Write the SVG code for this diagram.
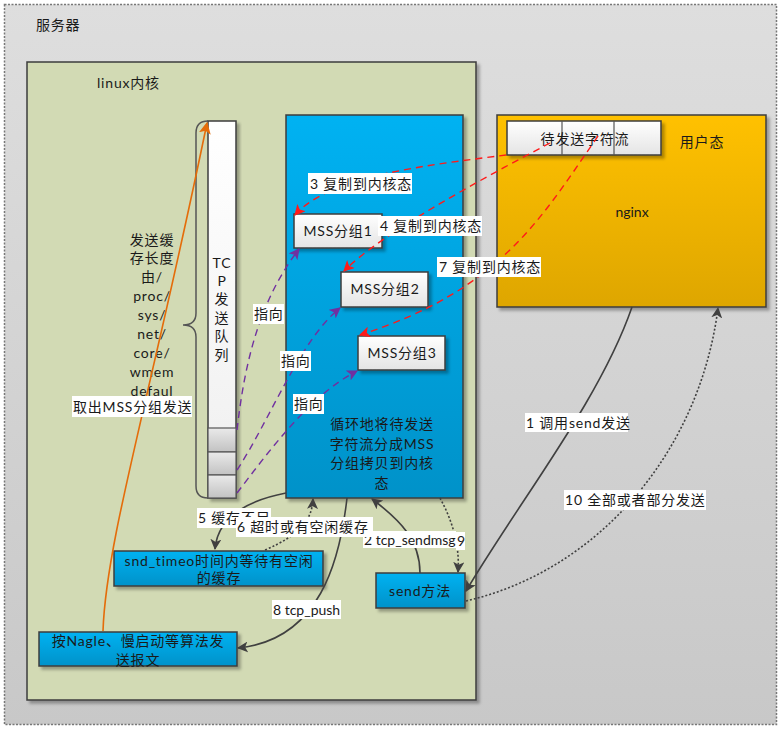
<svg xmlns="http://www.w3.org/2000/svg" width="783" height="729" viewBox="0 0 783 729">
<defs>
<style>
text{font-family:Lato,"Noto Sans CJK SC",sans-serif;font-size:14px;fill:#1a1a1a;letter-spacing:0.8px}
.l{letter-spacing:0}
.c{text-anchor:middle}
.box{stroke:#3c3c3c;stroke-width:1.5}
.lbl{fill:#fff}
.blk{fill:none;stroke:#404040;stroke-width:1.6}
.dot{fill:none;stroke:#404040;stroke-width:1.6;stroke-dasharray:2 2}
.red{fill:none;stroke:#ff1a1a;stroke-width:1.4;stroke-dasharray:7 5}
.pur{fill:none;stroke:#7030a0;stroke-width:1.4;stroke-dasharray:7 5}
</style>
<linearGradient id="gOuter" x1="0" y1="0" x2="0" y2="1"><stop offset="0" stop-color="#dedede"/><stop offset="1" stop-color="#c8c8c8"/></linearGradient>
<linearGradient id="gBlue" x1="0" y1="0" x2="0" y2="1"><stop offset="0" stop-color="#00b2f2"/><stop offset="1" stop-color="#0092c9"/></linearGradient>
<linearGradient id="gOrange" x1="0" y1="0" x2="0" y2="1"><stop offset="0" stop-color="#ffc100"/><stop offset="1" stop-color="#dea600"/></linearGradient>
<linearGradient id="gWhite" x1="0" y1="0" x2="0" y2="1"><stop offset="0" stop-color="#ffffff"/><stop offset="1" stop-color="#e4e4e4"/></linearGradient>
<linearGradient id="gQueue" x1="0" y1="0" x2="0" y2="1"><stop offset="0" stop-color="#ffffff"/><stop offset="1" stop-color="#efefef"/></linearGradient>
<linearGradient id="gSeg" x1="0" y1="0" x2="0" y2="1"><stop offset="0" stop-color="#eaeaea"/><stop offset="1" stop-color="#c2c2c2"/></linearGradient>
<filter id="sh" x="-10%" y="-10%" width="130%" height="130%"><feDropShadow dx="3" dy="3" stdDeviation="1.5" flood-color="#000" flood-opacity="0.3"/></filter>
<marker id="aBlk" viewBox="0 0 10 10" refX="9" refY="5" markerWidth="11" markerHeight="11" markerUnits="userSpaceOnUse" orient="auto"><path d="M0,0 L10,5 L0,10 L2.5,5 z" fill="#404040"/></marker>
<marker id="aRed" viewBox="0 0 10 10" refX="9" refY="5" markerWidth="11" markerHeight="11" markerUnits="userSpaceOnUse" orient="auto"><path d="M0,0 L10,5 L0,10 L2.5,5 z" fill="#ff1a1a"/></marker>
<marker id="aPur" viewBox="0 0 10 10" refX="9" refY="5" markerWidth="11" markerHeight="11" markerUnits="userSpaceOnUse" orient="auto"><path d="M0,0 L10,5 L0,10 L2.5,5 z" fill="#7030a0"/></marker>
<marker id="aOra" viewBox="0 0 10 10" refX="9" refY="5" markerWidth="12" markerHeight="12" markerUnits="userSpaceOnUse" orient="auto"><path d="M0,0 L10,5 L0,10 L2.5,5 z" fill="#e46c0a"/></marker>
</defs>

<g id="server">
<rect x="4.5" y="4.5" width="772" height="720" fill="url(#gOuter)" stroke="#777" stroke-width="1.5" stroke-dasharray="2 1.5"/>
<text x="36" y="30">服务器</text>
</g>

<g id="linux-kernel">
<rect x="27" y="62" width="449" height="638" fill="#d2dab4" class="box" filter="url(#sh)"/>
<text x="97" y="88">linux内核</text>
</g>

<g id="kernel-copy">
<rect x="286" y="115" width="177" height="383" fill="url(#gBlue)" class="box" filter="url(#sh)"/>
<text class="c" x="382" y="429">循环地将待发送</text>
<text class="c" x="382" y="449">字符流分成MSS</text>
<text class="c" x="382" y="468">分组拷贝到内核</text>
<text class="c" x="382" y="488">态</text>
</g>

<g id="nginx">
<rect x="497" y="115" width="269" height="192" fill="url(#gOrange)" class="box" filter="url(#sh)"/>
<text class="c" x="702" y="147">用户态</text>
<text class="c l" x="632" y="217">nginx</text>
</g>

<g id="byte-stream">
<rect x="507" y="121" width="154" height="34" fill="url(#gWhite)" class="box" filter="url(#sh)"/>
<line x1="562" y1="121" x2="562" y2="155" stroke="#555" stroke-width="1.2"/>
<line x1="614" y1="121" x2="614" y2="155" stroke="#555" stroke-width="1.2"/>
<text class="c" x="585" y="144">待发送字符流</text>
</g>

<g id="mss1">
<rect x="294" y="214" width="88" height="34" fill="url(#gWhite)" class="box" filter="url(#sh)"/>
<text class="c" x="338" y="236">MSS分组1</text>
</g>
<g id="mss2">
<rect x="341" y="272" width="87" height="35" fill="url(#gWhite)" class="box" filter="url(#sh)"/>
<text class="c" x="385" y="294">MSS分组2</text>
</g>
<g id="mss3">
<rect x="358" y="336" width="87" height="34" fill="url(#gWhite)" class="box" filter="url(#sh)"/>
<text class="c" x="402" y="358">MSS分组3</text>
</g>

<g id="tcp-queue">
<rect x="208" y="121" width="28" height="377" fill="url(#gQueue)" class="box" filter="url(#sh)"/>
<rect x="208" y="428" width="28" height="24" fill="url(#gSeg)" stroke="#555" stroke-width="1.2"/>
<rect x="208" y="452" width="28" height="23" fill="url(#gSeg)" stroke="#555" stroke-width="1.2"/>
<rect x="208" y="475" width="28" height="23" fill="url(#gSeg)" stroke="#555" stroke-width="1.2"/>
<text class="c" x="222" y="268">TC</text>
<text class="c" x="222" y="286">P</text>
<text class="c" x="222" y="304">发</text>
<text class="c" x="222" y="323">送</text>
<text class="c" x="222" y="341">队</text>
<text class="c" x="222" y="360">列</text>
</g>

<g id="buffer-note">
<path d="M208,121 Q196,121 196,133 L196,313 Q196,325 183,325 Q196,325 196,337 L196,486 Q196,498 208,498" fill="none" stroke="#555" stroke-width="1.5"/>
<text class="c" x="152" y="245">发送缓</text>
<text class="c" x="152" y="263">存长度</text>
<text class="c" x="152" y="282">由/</text>
<text class="c" x="152" y="301">proc/</text>
<text class="c" x="152" y="320">sys/</text>
<text class="c" x="152" y="339">net/</text>
<text class="c" x="152" y="358">core/</text>
<text class="c" x="152" y="377">wmem</text>
<text class="c" x="152" y="396">defaul</text>
</g>

<g id="snd-timeo">
<rect x="114" y="551" width="209" height="35" fill="url(#gBlue)" class="box" filter="url(#sh)"/>
<text class="c" x="219" y="566">snd_timeo时间内等待有空闲</text>
<text class="c" x="219" y="583">的缓存</text>
</g>
<g id="nagle">
<rect x="39" y="632" width="198" height="34" fill="url(#gBlue)" class="box" filter="url(#sh)"/>
<text class="c" x="138" y="646">按Nagle、慢启动等算法发</text>
<text class="c" x="138" y="665">送报文</text>
</g>
<g id="send">
<rect x="376" y="573" width="89" height="35" fill="url(#gBlue)" class="box" filter="url(#sh)"/>
<text class="c" x="420" y="596">send方法</text>
</g>

<g id="connectors">
<path d="M103,631 C106,540 150,400 207,123" fill="none" stroke="#e46c0a" stroke-width="1.6" marker-end="url(#aOra)"/>
<path class="red" d="M506,155 C430,165 330,175 295,215" marker-end="url(#aRed)"/>
<path class="red" d="M550,143 C470,185 380,235 344,271" marker-end="url(#aRed)"/>
<path class="red" d="M598,136 C540,220 500,290 360,335" marker-end="url(#aRed)"/>
<path class="pur" d="M237,430 C245,360 260,300 299,249" marker-end="url(#aPur)"/>
<path class="pur" d="M237,470 C270,420 300,340 340,308" marker-end="url(#aPur)"/>
<path class="pur" d="M237,493 C270,450 310,395 357,371" marker-end="url(#aPur)"/>
<path class="blk" d="M286,493 C250,500 218,515 215,549" marker-end="url(#aBlk)"/>
<path class="dot" d="M265,550 C300,535 312,520 313,499" marker-end="url(#aBlk)"/>
<path class="blk" d="M347,498 C340,560 320,640 238,648" marker-end="url(#aBlk)"/>
<path class="blk" d="M420,573 C420,540 400,520 372,499" marker-end="url(#aBlk)"/>
<path class="dot" d="M440,498 C452,520 460,545 458,572" marker-end="url(#aBlk)"/>
<path class="blk" d="M632,307 C600,400 520,500 466,591" marker-end="url(#aBlk)"/>
<path class="dot" d="M466,601 C600,570 700,450 718,308" marker-end="url(#aBlk)"/>

<rect class="lbl" x="308" y="173" width="104" height="21"/><text x="310" y="189">3 复制到内核态</text>
<rect class="lbl" x="378" y="216" width="104" height="20"/><text x="380" y="231">4 复制到内核态</text>
<rect class="lbl" x="437" y="257" width="104" height="20"/><text x="439" y="272">7 复制到内核态</text>
<rect class="lbl" x="253" y="304" width="31" height="20"/><text x="254" y="319">指向</text>
<rect class="lbl" x="280" y="351" width="31" height="20"/><text x="281" y="366">指向</text>
<rect class="lbl" x="293" y="394" width="31" height="20"/><text x="294" y="409">指向</text>
<rect class="lbl" x="72" y="396" width="120" height="21"/><text x="73" y="412">取出MSS分组发送</text>
<rect class="lbl" x="197" y="508" width="74" height="20"/><text x="198" y="523">5 缓存不足</text>
<rect class="lbl" x="363" y="531" width="93" height="17"/><text class="l" x="364" y="545" font-size="13.5">2 tcp_sendmsg</text>
<rect class="lbl" x="236" y="517" width="137" height="20"/><text x="237" y="532">6 超时或有空闲缓存</text>
<rect class="lbl" x="456" y="532" width="9" height="18"/><text class="l" x="457" y="546">9</text>
<rect class="lbl" x="272" y="600" width="69" height="19"/><text class="l" x="273" y="615">8 tcp_push</text>
<rect class="lbl" x="525" y="413" width="103" height="19"/><text x="526" y="428">1 调用send发送</text>
<rect class="lbl" x="564" y="490" width="142" height="20"/><text x="565" y="505">10 全部或者部分发送</text>
</g>
</svg>
